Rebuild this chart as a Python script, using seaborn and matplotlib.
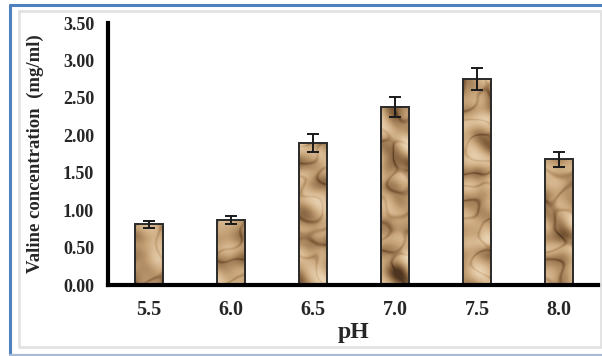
import numpy as np
import pandas as pd
import matplotlib
matplotlib.use('Agg')
import matplotlib.pyplot as plt
import seaborn as sns
from matplotlib.colors import LinearSegmentedColormap
from matplotlib.lines import Line2D

# data
ph_levels = ['5.5', '6.0', '6.5', '7.0', '7.5', '8.0']
valine = [0.81, 0.87, 1.90, 2.38, 2.75, 1.68]
valine_err = [0.05, 0.055, 0.12, 0.13, 0.15, 0.10]
y_ticks = [0.0, 0.5, 1.0, 1.5, 2.0, 2.5, 3.0, 3.5]

df = pd.DataFrame({'pH': ph_levels, 'valine': valine})

sns.set_theme(style='white')
plt.rcParams['font.family'] = ['Liberation Serif', 'DejaVu Serif']
plt.rcParams['font.weight'] = 'bold'

W, H = 602, 356
fig = plt.figure(figsize=(W / 100, H / 100), dpi=100)
fig.patch.set_facecolor('white')

# axes box in pixels: left 108, right 600, top 23, bottom 285
ax = fig.add_axes([108 / W, 1 - 285 / H, 492 / W, 262 / H])

sns.barplot(data=df, x='pH', y='valine', width=0.33, color='#c9a47a',
            edgecolor='#2a2a2a', linewidth=1.4, errorbar=None, ax=ax)

# crinkled paper texture: embossed sum of waves (fixed, not random)
ny, nx = 262, 492
yy, xx = np.mgrid[0:ny, 0:nx].astype(float)
field = np.zeros_like(xx)
golden = 2.39996
for i in range(18):
    ang = i * golden
    k = 0.12 + 0.10 * ((i * 7) % 5) / 4
    warp = 3.0 * np.sin(0.09 * yy + i) + 3.0 * np.cos(0.08 * xx + 2 * i)
    field += np.sin(k * (xx * np.cos(ang) + yy * np.sin(ang) + warp) + i * 1.7) / (1 + 0.08 * i)
gy, gx = np.gradient(field)
shade = gx - gy
shade = (shade - shade.mean()) / shade.std()
crease = np.exp(-(field / 0.45) ** 2)
tex = 0.58 + 0.17 * shade - 0.22 * crease
tex = np.clip(tex, 0, 1)
cmap = LinearSegmentedColormap.from_list('paper', ['#4e3520', '#7d5a38', '#a5815a', '#c6a378', '#dabd97', '#ead4b4'])

ax.set_xlim(-0.5, 5.5)
ax.set_ylim(0, 3.5)
for p in list(ax.patches):
    im = ax.imshow(tex, cmap=cmap, vmin=0, vmax=1, extent=[-0.5, 5.5, 0, 3.5], aspect='auto',
                   origin='upper', zorder=1.5, interpolation='bilinear')
    im.set_clip_path(p)
    p.set_facecolor('none')
    p.set_zorder(2)

ax.errorbar(range(len(ph_levels)), valine, yerr=valine_err, fmt='none',
            ecolor='#1a1a1a', elinewidth=1.4, capsize=4, capthick=1.4, zorder=3)

ax.set_xlim(-0.5, 5.5)
ax.set_ylim(0, 3.5)
ax.set_yticks(y_ticks)
ax.set_yticklabels([f'{v:.2f}' for v in y_ticks], fontsize=13, fontweight='bold')
ax.tick_params(axis='y', length=0, pad=10)
ax.tick_params(axis='x', length=0, pad=11, labelsize=14.5)
for t in ax.get_xticklabels():
    t.set_fontweight('bold')

for s in ['top', 'right']:
    ax.spines[s].set_visible(False)
for s in ['left', 'bottom']:
    ax.spines[s].set_color('black')
    ax.spines[s].set_linewidth(3)

ax.set_ylabel('Valine concentration  (mg/ml)', fontsize=13.5, fontweight='bold', va='center')
ax.yaxis.set_label_coords(-0.148, 0.5)
ax.set_xlabel('pH', fontsize=17, fontweight='bold', va='center')
ax.xaxis.set_label_coords(0.5, -0.183)

# frame around the chart
def px_line(xs, ys, color, lw):
    fig.add_artist(Line2D([x / W for x in xs], [1 - y / H for y in ys],
                          transform=fig.transFigure, color=color, lw=lw))

px_line([19, 601, 601, 19, 19], [11, 11, 347, 347, 11], '#e2e2e2', 2)
px_line([10, 605], [5, 5], '#4f81bd', 2.2)
px_line([10, 10], [5, 355], '#4f81bd', 2.2)
px_line([10, 605], [355, 355], '#a7bcd4', 1.6)

fig.savefig('out.png', dpi=100)
